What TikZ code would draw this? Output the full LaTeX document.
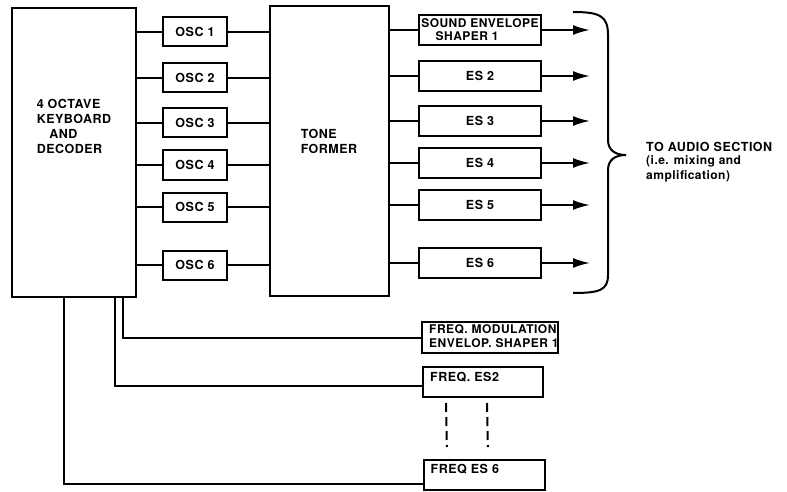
\documentclass[tikz,border=0pt]{standalone}
\usepackage{fontspec}
\setmainfont[LetterSpace=4]{TeX Gyre Heros}
\usepackage{tikz}
\usetikzlibrary{positioning, arrows.meta}

\tikzset{
  txt/.style={font=\fontsize{12.5}{15}\selectfont\bfseries, inner sep=0pt},
  small/.style={font=\fontsize{12}{14}\selectfont\bfseries},
  blk/.style={draw, line width=2pt, inner sep=0pt, txt},
  osc/.style={blk, minimum width=64pt, minimum height=29pt},
  es/.style={blk, minimum width=122pt, minimum height=30pt},
  wire/.style={line width=2pt},
  feed/.style={wire, -{Latex[length=17pt, width=10pt]}}
}

\begin{document}
\begin{tikzpicture}[x=1pt, y=-1pt]
  \useasboundingbox (0,0) rectangle (787,492);

  % keyboard and tone former
  \node[blk, minimum width=124pt, minimum height=289pt] (kbd) at (74,152.5) {};
  \node[txt, align=left] (kbdtxt) at (74,126) {4 OCTAVE\\KEYBOARD\\\hspace{1em}AND\\DECODER};
  \node[blk, minimum width=119pt, minimum height=290pt] (tone) at (329.5,151) {};
  \node[txt, align=left] (tonetxt) at (329,141) {TONE\\FORMER};

  % oscillators
  \foreach \i/\y in {1/32, 2/78, 3/123, 4/165, 5/207, 6/265} {
    \node[osc] (osc\i) at (195,\y) {OSC \i};
    \draw[wire] (kbd.east |- osc\i) -- (osc\i);
    \draw[wire] (osc\i) -- (tone.west |- osc\i);
  }

  % envelope shapers
  \node[es, align=left, font=\fontsize{12}{13}\selectfont\bfseries] (es1) at (480,30) {SOUND ENVELOPE\\\hspace{1.2em}SHAPER 1};
  \draw[wire] (tone.east |- es1) -- (es1);
  \coordinate (out1) at (590,30);
  \draw[feed] (es1) -- (out1);
  \foreach \i/\y in {2/76, 3/121, 4/163, 5/205, 6/263} {
    \node[es] (es\i) at (480,\y) {ES \i};
    \draw[wire] (tone.east |- es\i) -- (es\i);
    \coordinate (out\i) at (590,\y);
    \draw[feed] (es\i) -- (out\i);
  }

  % brace
  \draw[wire] (573,12) .. controls (600,12) and (608,16) .. (608,35) -- (608,140)
    .. controls (608,150) and (615,155) .. (626,155)
    .. controls (615,155) and (608,160) .. (608,170) -- (608,275)
    .. controls (608,290) and (600,293) .. (573,293);
  \node[txt, anchor=west] (audio1) at (646,147) {TO AUDIO SECTION};
  \node[txt, small, below=3pt of audio1.south west, anchor=north west] (audio2) {(i.e. mixing and};
  \node[txt, small, below=3pt of audio2.south west, anchor=north west] (audio3) {amplification)};

  % frequency envelope shapers
  \node[blk, minimum width=136pt, minimum height=31pt] (fmod) at (490,337.5) {};
  \node[txt, small, align=left, below right=3pt and 8pt of fmod.north west] (fmodtxt) {FREQ. MODULATION\\ENVELOP. SHAPER 1};
  \node[blk, minimum width=120pt, minimum height=30pt] (fes2) at (483,382) {};
  \node[txt, below right=6pt and 8pt of fes2.north west] (fes2txt) {FREQ. ES2};
  \node[blk, minimum width=121pt, minimum height=30pt] (fes6) at (484,475) {};
  \node[txt, below right=5pt and 8pt of fes6.north west] (fes6txt) {FREQ ES 6};

  \draw[wire] ([xshift=49pt]kbd.south) |- (fmod.west);
  \draw[wire] ([xshift=41pt]kbd.south) |- ([yshift=-4pt]fes2.west);
  \draw[wire] ([xshift=-10pt]kbd.south) |- ([yshift=-9pt]fes6.west);
  \draw[wire, dash pattern=on 9pt off 5pt, shorten <=5pt, shorten >=12pt] ([xshift=-37pt]fes2.south) -- ([xshift=-37pt]fes6.north);
  \draw[wire, dash pattern=on 9pt off 5pt, shorten <=5pt, shorten >=12pt] ([xshift=4pt]fes2.south) -- ([xshift=4pt]fes6.north);
\end{tikzpicture}
\end{document}
